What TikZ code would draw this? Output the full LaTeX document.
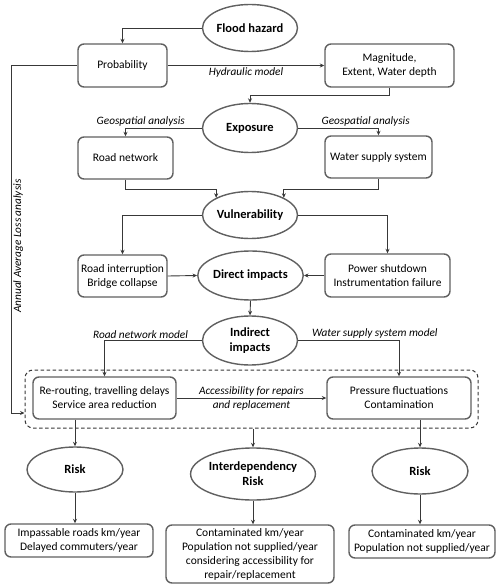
\documentclass[tikz,border=0pt]{standalone}
\usepackage{fontspec}
\setmainfont{Carlito}
\usetikzlibrary{shapes.geometric,arrows.meta}
\definecolor{boxgray}{HTML}{606060}
\definecolor{linegray}{HTML}{383838}

\begin{document}
\begin{tikzpicture}[x=1pt, y=-1pt, >={Stealth[length=4.5pt,width=4pt]},
	box/.style={draw=boxgray, line width=1.4pt, rounded corners=6pt, align=center, inner sep=0pt, font=\fontsize{11.5}{14}\selectfont},
	ell/.style={ellipse, draw=boxgray, line width=1.4pt, align=center, inner sep=0pt, font=\fontsize{12.5}{15}\selectfont\bfseries},
	lab/.style={font=\fontsize{11.3}{14}\selectfont\itshape, inner sep=1.5pt},
	conn/.style={draw=linegray, line width=0.9pt}]
			\useasboundingbox (0,0) rectangle (500,588);

			% Hazard
			\node[ell, minimum width=95pt, minimum height=47pt] (flood) at (250,28) {Flood hazard};
			\node[box, minimum width=89pt, minimum height=43pt] (prob) at (122.5,65.5) {Probability};
			\node[box, minimum width=129pt, minimum height=43pt] (magn) at (389.5,65.5) {Magnitude,\\Extent, Water depth};

			% Exposure
			\node[ell, minimum width=95pt, minimum height=49pt] (expo) at (250,128) {Exposure};
			\node[box, minimum width=95pt, minimum height=42pt] (road) at (125.5,158) {Road network};
			\node[box, minimum width=107pt, minimum height=42pt] (water) at (378.5,157) {Water supply system};

			% Vulnerability et impacts
			\node[ell, minimum width=95pt, minimum height=47pt] (vuln) at (250,215) {Vulnerability};
			\node[box, minimum width=89pt, minimum height=42pt] (rint) at (122.5,276) {Road interruption\\Bridge collapse};
			\node[box, minimum width=125pt, minimum height=43pt] (power) at (387.5,275.5) {Power shutdown\\Instrumentation failure};
			\node[ell, minimum width=96pt, minimum height=49pt] (direct) at (250.5,275.5) {Direct impacts};
			\node[ell, minimum width=95pt, minimum height=49pt] (indir) at (250,340.5) {Indirect\\impacts};

			% Zone en pointillés
			\node[draw=linegray, dash pattern=on 3.5pt off 2.5pt, line width=1pt, rounded corners=8pt, minimum width=453pt, minimum height=58pt] (zone) at (251.5,399) {};
			\node[box, minimum width=143pt, minimum height=42pt] (rerout) at (104.5,398) {Re-routing, travelling delays\\Service area reduction};
			\node[box, minimum width=144pt, minimum height=42pt] (press) at (399,398) {Pressure fluctuations\\Contamination};

			% Risques
			\node[ell, minimum width=96pt, minimum height=45pt] (riskl) at (75,469.5) {Risk};
			\node[ell, minimum width=108pt, minimum height=52pt] (interd) at (253,474) {Interdependency\\Risk};
			\node[ell, minimum width=96pt, minimum height=46pt] (riskr) at (420,471) {Risk};
			\node[box, minimum width=148pt, minimum height=33pt] (resl) at (79,540.5) {Impassable roads km/year\\Delayed commuters/year};
			\node[box, minimum width=168pt, minimum height=58pt] (resm) at (250,554) {Contaminated km/year\\Population not supplied/year\\considering accessibility for\\repair/replacement};
			\node[box, minimum width=146pt, minimum height=33pt] (resr) at (422,541.5) {Contaminated km/year\\Population not supplied/year};

			% Liaisons
			\draw[conn,->] (flood.west) -| (prob.north);
			\draw[conn,->] (prob.east) -- (magn.west) node[lab, midway, below] {Hydraulic model};
			\draw[conn,->] (magn.south) -- ++(0,8) -| (expo.north);
			\draw[conn,->] (expo.west) -| (road.north) node[lab, pos=0.4, above] {Geospatial analysis};
			\draw[conn,->] (expo.east) -| (water.north) node[lab, pos=0.42, above] {Geospatial analysis};
			\draw[conn,->] (road.south) -- ++(0,10) -| (vuln.153);
			\draw[conn,->] (water.south) -- ++(0,11) -| (vuln.27);
			\draw[conn,->] (vuln.west) -| (rint.north);
			\draw[conn,->] (vuln.east) -| (power.north);
			\draw[conn,->] (rint.east) -- (direct.west);
			\draw[conn,->] (power.west) -- (direct.east);
			\draw[conn,->] (direct.south) -- (indir.north);
			\draw[conn,->] (indir.west) -| (rerout.north) node[lab, pos=0.315, above] {Road network model};
			\draw[conn,->] (indir.east) -| (press.north) node[lab, pos=0.38, above] {Water supply system model};
			\draw[conn,->] (rerout.east) -- (press.west) node[lab, midway, align=center] {Accessibility for repairs\\and replacement};
			\draw[conn,->] (prob.west) -- ++(-66,0) |- ([yshift=-14pt]zone.west) node[lab, pos=0.26, rotate=90, anchor=north] {Annual Average Loss analysis};
			\draw[conn,->] (rerout.south -| riskl.north) -- (riskl.north);
			\draw[conn,->] (zone.south -| interd.north) -- (interd.north);
			\draw[conn,->] (press.south -| riskr.north) -- (riskr.north);
			\draw[conn,->] (riskl.south) -- (riskl.south |- resl.north);
			\draw[conn,->] (interd.south) -- (interd.south |- resm.north);
			\draw[conn,->] (riskr.south) -- (riskr.south |- resr.north);

		\end{tikzpicture}
\end{document}
